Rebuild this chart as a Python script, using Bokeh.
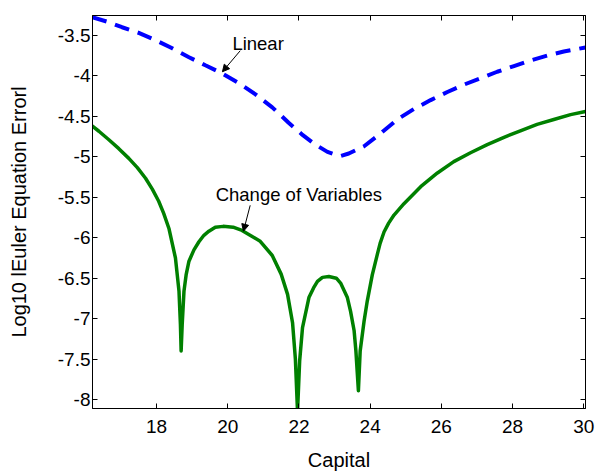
from bokeh.plotting import figure
from bokeh.models import Range1d, LinearAxis, FixedTicker, Arrow, NormalHead, Label
from bokeh.embed import file_html
from bokeh.resources import INLINE

# ---- data ----
linear_x = [16.19, 16.60, 17.03, 17.50, 17.97, 18.44, 18.91, 19.37, 19.84, 20.31,
            20.78, 21.25, 21.71, 22.10, 22.46, 22.80, 23.07, 23.17, 23.40, 23.83,
            24.30, 24.76, 25.23, 25.70, 26.17, 26.63, 27.10, 27.57, 28.04, 28.51,
            28.98, 29.44, 30.05]
linear_y = [-3.276, -3.33, -3.40, -3.47, -3.56, -3.66, -3.77, -3.87, -3.97, -4.09,
            -4.23, -4.39, -4.58, -4.73, -4.85, -4.94, -4.98, -4.99, -4.96, -4.87,
            -4.71, -4.54, -4.41, -4.30, -4.20, -4.11, -4.03, -3.95, -3.88, -3.81,
            -3.75, -3.70, -3.65]

cov_x = [16.19, 16.38, 16.66, 16.94, 17.22, 17.46, 17.69, 17.88, 18.06, 18.20,
         18.35, 18.53, 18.63, 18.67, 18.69,
         18.72, 18.77, 18.83, 18.91, 19.05, 19.19, 19.33, 19.47, 19.65, 19.87,
         20.15, 20.40, 20.90, 21.25, 21.50, 21.68, 21.82, 21.90, 21.96, 22.02,
         22.10, 22.28, 22.41, 22.52, 22.66, 22.84, 23.05, 23.17, 23.36, 23.45,
         23.55, 23.60, 23.67, 23.72, 23.83, 23.92, 24.06, 24.20, 24.28, 24.39,
         24.52, 24.67, 24.95, 25.42, 25.89, 26.35, 26.82, 27.29, 27.76, 28.22,
         28.69, 29.16, 29.63, 30.05]
cov_y = [-4.62, -4.685, -4.79, -4.90, -5.02, -5.135, -5.265, -5.40, -5.55, -5.70,
         -5.89, -6.25, -6.66, -7.07, -7.40,
         -7.07, -6.66, -6.46, -6.29, -6.15, -6.05, -5.97, -5.92, -5.87, -5.86,
         -5.87, -5.91, -6.04, -6.22, -6.45, -6.70, -7.05, -7.50, -8.15, -7.52,
         -7.11, -6.74, -6.62, -6.54, -6.49, -6.48, -6.50, -6.56, -6.74, -6.91,
         -7.15, -7.40, -7.89, -7.40, -7.03, -6.78, -6.46, -6.21, -6.07, -5.93,
         -5.82, -5.72, -5.58, -5.37, -5.20, -5.06, -4.95, -4.85, -4.76, -4.68,
         -4.60, -4.54, -4.48, -4.44]

x_ticks = [18, 20, 22, 24, 26, 28, 30]
y_ticks = [-8, -7.5, -7, -6.5, -6, -5.5, -5, -4.5, -4, -3.5]
y_tick_labels = ["-8", "-7.5", "-7", "-6.5", "-6", "-5.5", "-5", "-4.5", "-4", "-3.5"]

x_label = "Capital"
y_label = "Log10 lEuler Equation Errorl"
linear_name = "Linear"
cov_name = "Change of Variables"

# annotation anchor positions (data units)
linear_text_pos = (20.13, -3.605)
linear_arrow = (20.35, -3.69, 19.85, -3.95)
cov_text_pos = (19.66, -5.47)
cov_arrow = (20.63, -5.60, 20.44, -5.92)

FONT = "Liberation Sans"

p = figure(width=596, height=473, output_backend="svg", toolbar_location=None,
           x_range=Range1d(16.2, 30.05), y_range=Range1d(-8.11, -3.255),
           min_border_left=92, min_border_right=11, min_border_top=15,
           min_border_bottom=61, x_axis_location=None, y_axis_location=None)
p.grid.visible = False
p.outline_line_color = "black"
p.outline_line_width = 1
p.background_fill_color = "white"
p.border_fill_color = "white"

def style_axis(ax, ticks, labels=True):
    ax.ticker = FixedTicker(ticks=ticks)
    ax.major_tick_in = 5
    ax.major_tick_out = 0
    ax.minor_tick_line_color = None
    ax.axis_line_color = "black"
    ax.major_tick_line_color = "black"
    if labels:
        ax.major_label_text_font = FONT
        ax.major_label_text_font_size = "19px"
        ax.major_label_text_color = "black"
    else:
        ax.major_label_text_font_size = "0px"
        ax.major_label_text_color = None
        ax.major_label_standoff = 0

xb = LinearAxis(axis_label=x_label)
style_axis(xb, x_ticks)
xb.major_label_standoff = 11
xb.axis_label_standoff = 13
xb.axis_label_text_font = FONT
xb.axis_label_text_font_size = "20px"
xb.axis_label_text_font_style = "normal"
xb.axis_label_text_color = "black"
p.add_layout(xb, "below")

yl = LinearAxis(axis_label=y_label)
style_axis(yl, y_ticks)
yl.major_label_overrides = {v: s for v, s in zip(y_ticks, y_tick_labels)}
yl.major_label_standoff = 2
yl.axis_label_standoff = 25
yl.axis_label_text_font = FONT
yl.axis_label_text_font_size = "20px"
yl.axis_label_text_font_style = "normal"
yl.axis_label_text_color = "black"
p.add_layout(yl, "left")

xt = LinearAxis()
style_axis(xt, x_ticks, labels=False)
p.add_layout(xt, "above")
yr = LinearAxis()
style_axis(yr, y_ticks, labels=False)
p.add_layout(yr, "right")

p.line(linear_x, linear_y, line_color="#0000ff", line_width=4, line_dash="15 9")
p.line(cov_x, cov_y, line_color="#008000", line_width=3.5, line_join="round")

for (tx, ty), name, (ax0, ay0, ax1, ay1) in [
        (linear_text_pos, linear_name, linear_arrow),
        (cov_text_pos, cov_name, cov_arrow)]:
    p.add_layout(Label(x=tx, y=ty, text=name, text_font=FONT, text_font_size="18.5px",
                       text_color="black", text_baseline="alphabetic"))
    p.add_layout(Arrow(x_start=ax0, y_start=ay0, x_end=ax1, y_end=ay1,
                       line_color="black", line_width=1,
                       end=NormalHead(size=7, fill_color="black", line_color="black")))

open("out.html", "w").write(file_html(p, INLINE))
